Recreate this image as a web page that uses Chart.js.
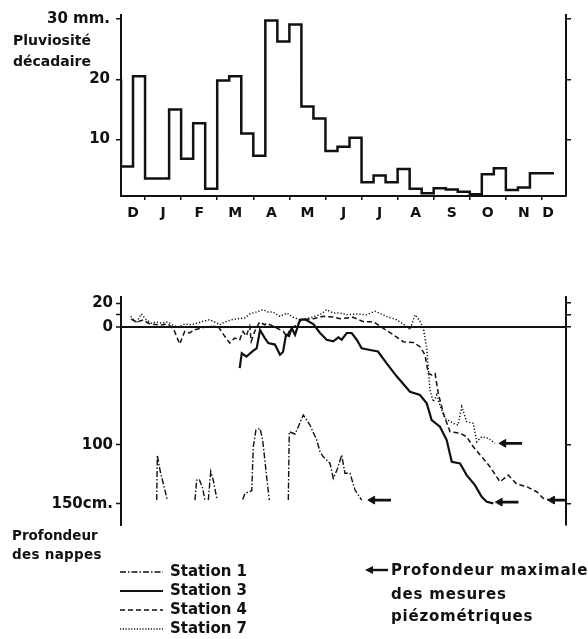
<!DOCTYPE html>
<html><head><meta charset="utf-8">
<script src="https://cdn.jsdelivr.net/npm/chart.js@4.4.1/dist/chart.umd.min.js"></script>
<style>
html,body{margin:0;padding:0;background:#fff;}
body{width:588px;height:639px;position:relative;overflow:hidden;font-family:"DejaVu Sans",sans-serif;font-weight:bold;color:#111;}
canvas{position:absolute;left:0;}
#c1{top:0;}
#c2{top:280px;}
.t{position:absolute;font-size:14px;white-space:nowrap;line-height:14px;}
.s{font-size:15px;line-height:15px;}
.r{font-size:15px;line-height:15px;letter-spacing:0.8px;}
svg{position:absolute;left:0;top:0;}
</style></head><body>
<canvas id="c1" width="588" height="232"></canvas>
<canvas id="c2" width="588" height="260"></canvas>

<div class="t" style="left:13px;top:33px">Pluviosité</div>
<div class="t" style="left:13px;top:54px">décadaire</div>
<div class="t" style="left:12px;top:528px;font-size:13.5px">Profondeur</div>
<div class="t" style="left:12px;top:547px;font-size:13.5px;letter-spacing:0.3px">des nappes</div>

<svg width="588" height="639" id="leg"></svg>
<div class="t s" style="left:170px;top:564px">Station 1</div>
<div class="t s" style="left:170px;top:583px">Station 3</div>
<div class="t s" style="left:170px;top:602px">Station 4</div>
<div class="t s" style="left:170px;top:621px">Station 7</div>
<div class="t r" style="left:391px;top:563px">Profondeur maximale</div>
<div class="t r" style="left:391px;top:587px">des mesures</div>
<div class="t r" style="left:391px;top:609px">piézométriques</div>

<script>
// ---------- DATA ----------
// Rainfall per decade (10-day period), mm, from mid-December to mid-December
const decadeRain = [20, 5.5, 20.5, 3.5, 3.5, 15, 6.8, 12.7, 1.8, 19.8, 20.5, 11,
  7.3, 29.8, 26.3, 29.1, 15.5, 13.5, 8.1, 8.8, 10.3, 2.9, 4, 2.9,
  5.1, 1.8, 1.05, 1.9, 1.7, 1.3, 0.9, 4.2, 5.2, 1.6, 2, 4.4];
const monthLabels = ['D','J','F','M','A','M','J','J','A','S','O','N','D'];
const monthDecades = [2,3,3,3,3,3,3,3,3,3,3,3,1];
const rainTicks = [10, 20, 30];

// Water-table depth (cm, negative = above reference), x in decades
const s1x = [2.97,3.02,3.24,3.85,null, 6.15,6.29,6.51,6.79,6.98,null, 7.26,7.46,7.67,7.96,null,
  10.12,10.31,10.87,11.0,11.22,11.56,11.78,12.11,12.33,null,
  13.91,13.99,14.47,14.74,15.16,15.71,16.27,16.55,16.82,17.38,17.65,17.96,18.35,18.62,19.04,19.46,20.01];
const s1y = [146.9,108.7,121.4,146.9,null, 146.9,129.9,129.3,137,146.9,null, 146.9,122.9,129.9,145.4,null,
  146.3,141.2,139,101.7,87.5,86.1,96,127.1,146.9,null,
  146.9,89,90.9,84.7,74.8,83.3,96,105.9,110.2,115.8,128.5,121.4,108.7,124.2,124.2,138.4,146.9];

const s3x = [9.87,10.04,10.43,11.0,11.28,11.56,11.97,12.25,12.8,13.22,13.47,13.72,13.97,14.19,14.47,14.88,15.3,
  15.99,16.55,17.1,17.65,18.07,18.35,18.77,19.18,19.6,20.01,20.7,21.37,22.09,22.92,24.03,24.86,25.42,
  25.83,26.52,27.08,27.5,28.19,28.74,29.43,29.99,30.41,30.96];
const s3y = [35,22.5,25.3,20.3,18.3,2.8,9.8,13.8,15.1,23.7,21.4,6.8,7.9,1.1,6.8,-5.9,-6.3,
  -2.3,5.3,11,12.4,9,11,5.3,5.3,11,18.3,19.7,21,31,42,55.1,57.9,64.9,
  79.1,84.7,96,114.4,115.8,125.7,134.2,144.1,148.3,149.7];

const s4x = [0.83,1.33,1.83,2.41,3.24,3.91,4.41,4.88,5.3,5.71,6.13,6.68,7.23,8.07,8.62,9.04,9.45,9.87,
  10.14,10.42,10.7,10.83,11.12,11.53,11.95,12.11,12.95,13.49,13.78,14.05,14.61,15.02,15.99,16.82,17.65,
  18.21,19.31,20.15,20.98,21.81,22.64,23.47,24.3,24.86,25.28,25.55,25.83,26.11,26.38,26.8,27.36,28.19,
  28.74,29.29,29.99,30.68,31.51,32.2,32.9,33.73,34.56,35.11,35.67];
const s4y = [-6.5,-4,-5.7,-2.3,-1.4,-2.3,2.8,14.7,3.9,5.3,2.5,1.1,-0.2,-0.3,8.1,13.8,9.6,11,
  3.9,7.9,-0.3,12.4,3.9,-4,-1.7,-3.1,1.1,3.9,8.1,2.5,-1.7,-5.9,-6.8,-8.8,-8.2,
  -6.8,-8,-4.2,-4.2,1.4,6.8,12.7,13.4,16.9,24,39.5,40.9,39.5,56.4,73.4,89,90.3,
  93.2,101.7,110.2,118.6,131.4,125.7,133.3,135.6,139.8,145.4,146.9];

const s7x = [0.81,1.27,1.69,2.1,2.52,2.94,3.35,3.91,4.32,4.74,5.3,5.82,6.4,6.96,7.38,7.79,8.21,8.62,9.17,
  9.73,10.29,10.7,11.25,11.81,12.22,12.64,13.22,13.78,14.33,14.88,15.71,16.55,17.1,17.65,18.21,18.77,
  19.6,20.43,21.12,22.09,22.92,23.75,24.03,24.45,24.86,25.14,25.42,25.69,25.97,26.25,26.52,26.94,27.63,
  28.02,28.33,28.74,29.29,29.58,29.99,30.54,31.1];
const s7y = [-8.8,-3.1,-10.8,-5.9,-3.1,-4,-3.1,-4,-1.2,0.5,-2.3,-1.7,-3.1,-5.1,-5.9,-4,-1.7,-4,-5.9,
  -6.8,-7.4,-10.8,-12.5,-14.4,-12.5,-12.5,-8.8,-11.6,-8,-5.9,-7.4,-10.2,-14.4,-11.6,-11.6,-10.2,
  -10.8,-10.2,-13.1,-8.8,-5.9,-0.3,2.5,-10.2,-4.6,1.1,18,53.6,63.6,57.9,66.4,77.6,81.9,
  83.3,67.8,80.5,81.9,97.5,93.2,94.6,98.8];

// Maximum depth of piezometric measurements (arrow heads): decade, depth
const maxDepthX = [20.9, 31.5, 35.85, 31.8];
const maxDepthY = [146.9, 148.6, 146.9, 98.8];
const depthTicks = [-20, -10, 0, 100, 150];
const depthTickLabels = ['20', '', '0', '100', '150cm.'];

// ---------- CHARTS ----------
const INK = '#111';
const FONT = {family: '"DejaVu Sans", sans-serif', weight: 'bold', size: 15};
Chart.defaults.color = INK;

function monthTicks() {
  const t = []; let start = 0;
  monthDecades.forEach((len, i) => {
    t.push({value: start + len / 2, label: monthLabels[i], kind: 'c'});
    start += len;
    if (i < monthDecades.length - 1) t.push({value: start, label: '', kind: 'b'});
  });
  return t.sort((a, b) => a.value - b.value);
}

const rainPts = decadeRain.map((v, i) => ({x: i, y: v}));
rainPts.push({x: decadeRain.length, y: decadeRain[decadeRain.length - 1]});

const XMAX = 37;

new Chart(document.getElementById('c1'), {
  type: 'line',
  data: {datasets: [{data: rainPts, stepped: 'after', borderColor: INK, borderWidth: 2.5,
    pointRadius: 0, fill: false}]},
  options: {
    responsive: false, animation: false, events: [],
    layout: {padding: {top: 15, left: 0, right: 0, bottom: 0}},
    plugins: {legend: {display: false}, tooltip: {enabled: false}},
    scales: {
      x: {type: 'linear', min: 0, max: XMAX, position: 'bottom',
        afterBuildTicks: s => { s.ticks = monthTicks(); },
        ticks: {autoSkip: false, maxRotation: 0, padding: 5, font: {...FONT, size: 14},
          callback: (v, i, ticks) => ticks[i].label},
        grid: {drawOnChartArea: false, drawTicks: true, tickLength: 4,
          color: c => (c.tick && c.tick.kind === 'b') ? INK : 'rgba(0,0,0,0)', lineWidth: 1.5},
        border: {display: true, color: INK, width: 2},
        afterFit: s => { s.height = 36; }
      },
      y: {type: 'linear', min: 0.6, max: 30.7, position: 'left',
        afterBuildTicks: s => { s.ticks = rainTicks.map(v => ({value: v})); },
        ticks: {padding: 6, font: FONT, callback: v => v === 30 ? '30 mm.' : String(v)},
        grid: {drawOnChartArea: false, tickLength: 5, color: INK, lineWidth: 1.5},
        border: {display: true, color: INK, width: 2},
        afterFit: s => { s.width = 121; }
      },
      y2: {type: 'linear', min: 0.6, max: 30.7, position: 'right',
        afterBuildTicks: s => { s.ticks = rainTicks.map(v => ({value: v})); },
        ticks: {display: false},
        grid: {drawOnChartArea: false, tickLength: 5, color: INK, lineWidth: 1.5},
        border: {display: true, color: INK, width: 2},
        afterFit: s => { s.width = 22; }
      }
    }
  }
});

function pts(xs, ys) { return xs.map((x, i) => ({x: x === null ? NaN : x, y: ys[i]})); }
const arrowPts = [];
maxDepthX.forEach((x, i) => {
  arrowPts.push({x: x, y: maxDepthY[i]}, {x: x + 1.55, y: maxDepthY[i]}, {x: x + 1.6, y: null});
});

new Chart(document.getElementById('c2'), {
  type: 'line',
  data: {datasets: [
    {label: 'Station 1', data: pts(s1x, s1y), borderColor: INK, borderWidth: 1.4, borderDash: [6, 2, 1.5, 2], pointRadius: 0, spanGaps: false},
    {label: 'Station 3', data: pts(s3x, s3y), borderColor: INK, borderWidth: 2.2, pointRadius: 0},
    {label: 'Station 4', data: pts(s4x, s4y), borderColor: INK, borderWidth: 1.5, borderDash: [5, 3], pointRadius: 0},
    {label: 'Station 7', data: pts(s7x, s7y), borderColor: INK, borderWidth: 1.5, borderDash: [1.2, 2], pointRadius: 0},
    {label: 'max', data: arrowPts, borderColor: INK, borderWidth: 2.6, spanGaps: false,
      pointStyle: 'triangle', rotation: -90, pointBackgroundColor: INK, pointBorderColor: INK, pointBorderWidth: 1,
      pointRadius: c => c.dataIndex % 3 === 0 ? 4.5 : 0}
  ]},
  options: {
    responsive: false, animation: false, events: [],
    layout: {padding: {top: 17, left: 0, right: 0, bottom: 15}},
    plugins: {legend: {display: false}, tooltip: {enabled: false}},
    scales: {
      x: {type: 'linear', min: 0, max: XMAX, display: false},
      y: {type: 'linear', min: -25.2, max: 168, reverse: true, position: 'left',
        afterBuildTicks: s => { s.ticks = depthTicks.map(v => ({value: v})); },
        ticks: {padding: 3, font: FONT, callback: (v) => depthTickLabels[depthTicks.indexOf(v)]},
        grid: {drawOnChartArea: true, tickLength: 5, tickColor: INK, tickWidth: 1.5,
          color: c => (c.tick && c.tick.value === 0) ? INK : 'rgba(0,0,0,0)',
          lineWidth: c => (c.tick && c.tick.value === 0) ? 2 : 1},
        border: {display: true, color: INK, width: 2},
        afterFit: s => { s.width = 121; }
      },
      y2: {type: 'linear', min: -25.2, max: 168, reverse: true, position: 'right',
        afterBuildTicks: s => { s.ticks = depthTicks.map(v => ({value: v})); },
        ticks: {display: false},
        grid: {drawOnChartArea: false, tickLength: 5, color: INK, lineWidth: 1.5},
        border: {display: true, color: INK, width: 2},
        afterFit: s => { s.width = 22; }
      }
    }
  }
});

// ---------- LEGEND SAMPLES ----------
(function () {
  const svg = document.getElementById('leg');
  const NS = 'http://www.w3.org/2000/svg';
  const rows = [
    {y: 572, dash: '6 2 1.5 2', w: 1.3},
    {y: 591, dash: '', w: 2},
    {y: 610, dash: '5 3', w: 1.5},
    {y: 629, dash: '1.2 1.6', w: 1.3}
  ];
  rows.forEach(r => {
    const l = document.createElementNS(NS, 'line');
    l.setAttribute('x1', 120); l.setAttribute('x2', 163);
    l.setAttribute('y1', r.y); l.setAttribute('y2', r.y);
    l.setAttribute('stroke', INK); l.setAttribute('stroke-width', r.w);
    if (r.dash) l.setAttribute('stroke-dasharray', r.dash);
    svg.appendChild(l);
  });
  const a = document.createElementNS(NS, 'line');
  a.setAttribute('x1', 370); a.setAttribute('x2', 388); a.setAttribute('y1', 570); a.setAttribute('y2', 570);
  a.setAttribute('stroke', INK); a.setAttribute('stroke-width', 2.4);
  svg.appendChild(a);
  const p = document.createElementNS(NS, 'polygon');
  p.setAttribute('points', '365,570 373,566 373,574');
  p.setAttribute('fill', INK);
  svg.appendChild(p);
})();
</script>
</body></html>
